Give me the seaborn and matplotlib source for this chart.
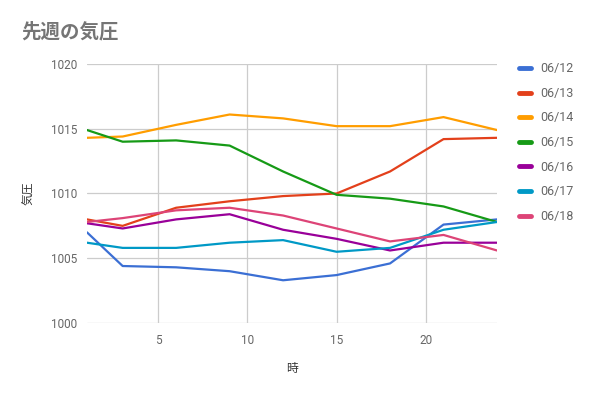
import matplotlib
matplotlib.use("Agg")
import matplotlib.pyplot as plt
import seaborn as sns
import pandas as pd
from matplotlib.lines import Line2D

hours = [1, 3, 6, 9, 12, 15, 18, 21, 24]
d0612 = [1007.0, 1004.4, 1004.3, 1004.0, 1003.3, 1003.7, 1004.6, 1007.6, 1008.0]
d0613 = [1008.0, 1007.5, 1008.9, 1009.4, 1009.8, 1010.0, 1011.7, 1014.2, 1014.3]
d0614 = [1014.3, 1014.4, 1015.3, 1016.1, 1015.8, 1015.2, 1015.2, 1015.9, 1014.9]
d0615 = [1014.9, 1014.0, 1014.1, 1013.7, 1011.7, 1009.9, 1009.6, 1009.0, 1007.8]
d0616 = [1007.7, 1007.3, 1008.0, 1008.4, 1007.2, 1006.5, 1005.6, 1006.2, 1006.2]
d0617 = [1006.2, 1005.8, 1005.8, 1006.2, 1006.4, 1005.5, 1005.8, 1007.2, 1007.8]
d0618 = [1007.8, 1008.1, 1008.7, 1008.9, 1008.3, 1007.3, 1006.3, 1006.8, 1005.6]
dates = ["06/12", "06/13", "06/14", "06/15", "06/16", "06/17", "06/18"]
series = [d0612, d0613, d0614, d0615, d0616, d0617, d0618]
colors = ["#3b6fd4", "#e3401b", "#ff9d00", "#169a16", "#990099", "#0099c6", "#dd4477"]
y_ticks = [1000, 1005, 1010, 1015, 1020]
x_ticks = [5, 10, 15, 20]

rows = []
for d, vals in zip(dates, series):
    for h, v in zip(hours, vals):
        rows.append({"時": h, "気圧": v, "date": d})
df = pd.DataFrame(rows)

sns.set_theme(style="white")
plt.rcParams["font.family"] = ["Roboto", "Noto Sans CJK JP", "DejaVu Sans"]

fig = plt.figure(figsize=(5.91, 3.97), dpi=100)
ax = fig.add_axes([87/591, 1 - 323/397, 410/591, 259/397])

sns.lineplot(data=df, x="時", y="気圧", hue="date", palette=dict(zip(dates, colors)),
             linewidth=1.6, ax=ax, legend=False, sort=False)

ax.set_xlim(1, 24)
ax.set_ylim(1000, 1020)
ax.set_xticks(x_ticks)
ax.set_yticks(y_ticks)
ax.grid(True, color="#cccccc", linewidth=0.9)
ax.set_axisbelow(True)
for s in ax.spines.values():
    s.set_visible(False)
ax.tick_params(axis="both", length=0, labelsize=8.5, labelcolor="#666666")
ax.tick_params(axis="y", pad=7)
ax.tick_params(axis="x", pad=8)

ax.set_xlabel("時", fontsize=8.5, color="#333333", labelpad=11,
              family=["Noto Sans CJK JP", "DejaVu Sans"])
ax.set_ylabel("気圧", fontsize=8.5, color="#333333", labelpad=11,
              family=["Noto Sans CJK JP", "DejaVu Sans"])

fig.text(21/591, 1 - 32/397, "先週の気圧", fontsize=14, color="#757575", fontweight="bold",
         va="center", ha="left", family=["Noto Sans CJK JP", "DejaVu Sans"])

handles = [Line2D([0], [0], color=c, linewidth=3.5) for c in colors]
fig.legend(handles, dates, loc="upper left", bbox_to_anchor=(508/591, 1 - 51/397),
           frameon=False, fontsize=9, labelcolor="#666666", handlelength=0.95,
           handletextpad=0.75, labelspacing=0.93)

fig.savefig("out.png", dpi=100)
